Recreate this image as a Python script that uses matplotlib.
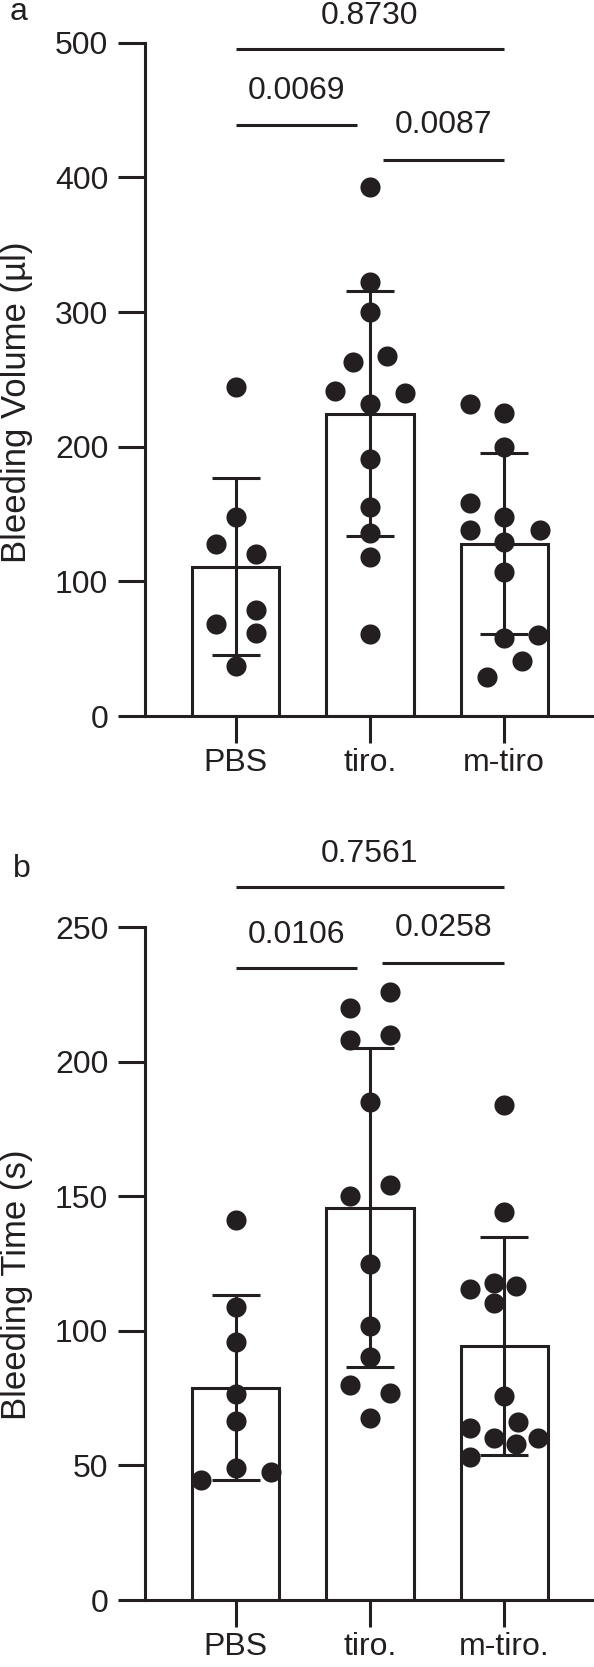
import numpy as np
import matplotlib.pyplot as plt

plt.rcParams['font.family'] = ['Liberation Sans', 'DejaVu Sans']

groups_a = ['PBS', 'tiro.', 'm-tiro']
groups_b = ['PBS', 'tiro.', 'm-tiro.']

# bleeding volume (ul)
vol_pbs = [244, 148, 128, 120, 79, 68, 62, 37]
vol_tiro = [393, 322, 300, 267, 263, 241, 240, 232, 191, 155, 136, 118, 61]
vol_mtiro = [232, 225, 200, 158, 148, 138, 138, 129, 107, 58, 60, 41, 29]

# bleeding time (s)
time_pbs = [141, 109, 96, 76.5, 66.6, 49, 44.7, 47.4]
time_tiro = [225.8, 219.9, 208, 209.8, 185, 150.2, 154.2, 125, 101.9, 90.1, 79.8, 76.9, 67.5]
time_mtiro = [184, 144, 115.5, 117.6, 116.7, 110.5, 75.9, 63.9, 66, 60.1, 57.9, 60, 53]

# horizontal scatter of each dot (in bar units)
vol_pbs_dx = [0, 0, -0.15, 0.15, 0.15, -0.15, 0.15, 0]
vol_tiro_dx = [0, 0, 0, 0.127, -0.127, -0.26, 0.26, 0, 0, 0, 0, 0, 0]
vol_mtiro_dx = [-0.254, 0, 0, -0.254, 0, -0.254, 0.268, 0, 0, 0, 0.254, 0.135, -0.127]
time_pbs_dx = [0, 0, 0, 0, 0, 0, -0.26, 0.26]
time_tiro_dx = [0.15, -0.15, -0.15, 0.15, 0, -0.15, 0.15, 0, 0, 0, -0.15, 0.15, 0]
time_mtiro_dx = [0, 0, -0.254, -0.08, 0.09, -0.08, 0, -0.254, 0.104, -0.08, 0.085, 0.254, -0.254]

# pairwise comparisons: (i, j, p-value)
comps_a = [(0, 2, '0.8730'), (0, 1, '0.0069'), (1, 2, '0.0087')]
comps_b = [(0, 2, '0.7561'), (0, 1, '0.0106'), (1, 2, '0.0258')]

INK = '#231f20'
LW = 2.2
FS = 23


def draw_panel(ax, names, series, offsets, ylim, yticks, ylabel, comps,
               line_y, text_y, line_x, text_x, label_y):
    x = np.arange(len(names))
    means = [np.mean(s) for s in series]
    sds = [np.std(s, ddof=1) for s in series]
    ax.bar(x, means, width=0.65, color='white', edgecolor=INK, linewidth=LW, zorder=1)
    ax.errorbar(x, means, yerr=sds, fmt='none', ecolor=INK, elinewidth=LW,
                capsize=17, capthick=LW, zorder=2)
    for i, (s, dx) in enumerate(zip(series, offsets)):
        ax.scatter(i + np.array(dx), s, s=210, color=INK, linewidths=0, zorder=3, clip_on=False)

    # significance brackets (plain lines with the p-value above)
    for k, (i, j, p) in enumerate(comps):
        x0, x1 = line_x[k]
        ax.plot([i + x0, j + x1], [line_y[k]] * 2, color=INK, lw=LW,
                clip_on=False, solid_capstyle='butt')
        ax.text(text_x[k], text_y[k], p, ha='center', va='baseline', fontsize=FS, color=INK)

    ax.set_xlim(-0.676, 2.676)
    ax.set_ylim(*ylim)
    ax.set_yticks(yticks)
    ax.set_xticks(x)
    ax.set_xticklabels(names)
    for sp in ['top', 'right']:
        ax.spines[sp].set_visible(False)
    for sp in ['left', 'bottom']:
        ax.spines[sp].set_linewidth(LW)
        ax.spines[sp].set_color(INK)
    ax.tick_params(axis='both', length=19.4, width=LW, color=INK, labelsize=FS, labelcolor=INK)
    ax.tick_params(axis='y', pad=7)
    ax.tick_params(axis='x', pad=3.5)
    ax.set_ylabel(ylabel, fontsize=FS + 2, color=INK, va='center')
    ax.yaxis.set_label_coords(-0.285, label_y)


fig = plt.figure(figsize=(5.94, 16.67), dpi=100)
ax_a = fig.add_axes([145 / 594, 1 - 716 / 1667, 450 / 594, (716 - 42.7) / 1667])
ax_b = fig.add_axes([145 / 594, 1 - 1600 / 1667, 450 / 594, (1600 - 927) / 1667])

draw_panel(ax_a, groups_a, [vol_pbs, vol_tiro, vol_mtiro],
           [vol_pbs_dx, vol_tiro_dx, vol_mtiro_dx],
           (0, 500), [0, 100, 200, 300, 400, 500], 'Bleeding Volume (\u00b5l)',
           comps_a, line_y=[495, 439, 413], text_y=[514, 458, 433],
           line_x=[(0, 0), (0, -0.1), (0.1, 0)], text_x=[1.0, 0.45, 1.55], label_y=0.466)

draw_panel(ax_b, groups_b, [time_pbs, time_tiro, time_mtiro],
           [time_pbs_dx, time_tiro_dx, time_mtiro_dx],
           (0, 250), [0, 50, 100, 150, 200, 250], 'Bleeding Time (s)',
           comps_b, line_y=[264.7, 234.6, 236.6], text_y=[274.3, 244.2, 246.5],
           line_x=[(0, 0), (0, -0.1), (0.09, 0)], text_x=[1.0, 0.45, 1.55], label_y=0.469)

fig.text(19 / 594, 1 - 20 / 1667, 'a', fontsize=FS, ha='center', va='baseline', color=INK)
fig.text(22 / 594, 1 - 877 / 1667, 'b', fontsize=FS, ha='center', va='baseline', color=INK)

fig.savefig('out.png', dpi=100)
